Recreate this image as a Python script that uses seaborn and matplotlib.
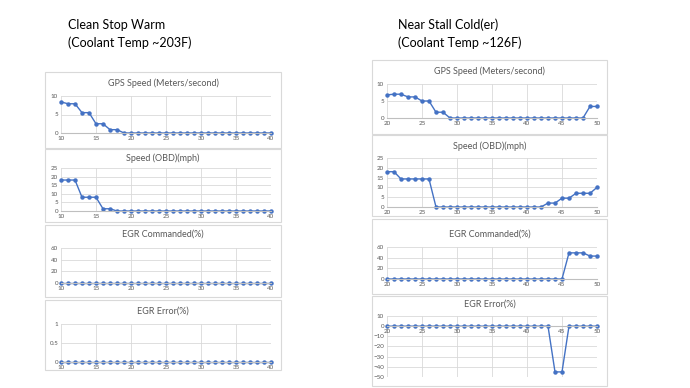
import matplotlib
matplotlib.use("Agg")
import matplotlib.pyplot as plt
import seaborn as sns
from matplotlib.patches import Rectangle

sns.set_style("white")
plt.rcParams['font.family'] = ['Lato', 'DejaVu Sans']

# data
left_x = [10, 11, 12, 13, 14, 15, 16, 17, 18, 19, 20, 21, 22, 23, 24, 25,
          26, 27, 28, 29, 30, 31, 32, 33, 34, 35, 36, 37, 38, 39, 40]
left_gps = [8.4, 7.9, 7.9, 5.5, 5.5, 2.5, 2.5, 0.9, 0.9, 0, 0, 0, 0, 0, 0, 0,
            0, 0, 0, 0, 0, 0, 0, 0, 0, 0, 0, 0, 0, 0, 0]
left_obd = [18, 18, 18, 8, 8, 8, 1.3, 1.3, 0, 0, 0, 0, 0, 0, 0, 0,
            0, 0, 0, 0, 0, 0, 0, 0, 0, 0, 0, 0, 0, 0, 0]
left_egr_cmd = [0, 0, 0, 0, 0, 0, 0, 0, 0, 0, 0, 0, 0, 0, 0, 0,
                0, 0, 0, 0, 0, 0, 0, 0, 0, 0, 0, 0, 0, 0, 0]
left_egr_err = [0, 0, 0, 0, 0, 0, 0, 0, 0, 0, 0, 0, 0, 0, 0, 0,
                0, 0, 0, 0, 0, 0, 0, 0, 0, 0, 0, 0, 0, 0, 0]

right_x = [20, 21, 22, 23, 24, 25, 26, 27, 28, 29, 30, 31, 32, 33, 34, 35,
           36, 37, 38, 39, 40, 41, 42, 43, 44, 45, 46, 47, 48, 49, 50]
right_gps = [6.8, 7.0, 7.0, 6.2, 6.2, 5.0, 5.0, 1.7, 1.7, 0, 0, 0, 0, 0, 0, 0,
             0, 0, 0, 0, 0, 0, 0, 0, 0, 0, 0, 0, 0, 3.4, 3.4]
right_obd = [18, 18, 14.3, 14.3, 14.3, 14.3, 14.3, 0, 0, 0, 0, 0, 0, 0, 0, 0,
             0, 0, 0, 0, 0, 0, 0, 2, 2, 4.5, 4.5, 7, 7, 7, 10]
right_egr_cmd = [0, 0, 0, 0, 0, 0, 0, 0, 0, 0, 0, 0, 0, 0, 0, 0,
                 0, 0, 0, 0, 0, 0, 0, 0, 0, 0, 49, 49, 49, 43, 43]
right_egr_err = [0, 0, 0, 0, 0, 0, 0, 0, 0, 0, 0, 0, 0, 0, 0, 0,
                 0, 0, 0, 0, 0, 0, 0, 0, -45, -45, 0, 0, 0, 0, 0]

titles = ['GPS Speed (Meters/second)', 'Speed (OBD)(mph)', 'EGR Commanded(%)', 'EGR Error(%)']
left_xticks = [10, 15, 20, 25, 30, 35, 40]
right_xticks = [20, 25, 30, 35, 40, 45, 50]

W, H = 690, 388
BLUE = '#4472C4'
GRID = '#d9d9d9'
TXT = '#595959'

fig = plt.figure(figsize=(W / 100, H / 100), dpi=100)


def fx(x):
    return x / W


def fy(y):
    return 1 - y / H


def panel(box, plot, title_y, title, x, y, xticks, yticks, ylabels=None, cross_zero=False):
    # box / plot given as (left, top, right, bottom) in pixels
    l, t, r, b = box
    fig.patches.append(Rectangle((fx(l), fy(b)), fx(r - l), (b - t) / H,
                                 transform=fig.transFigure, facecolor='white',
                                 edgecolor=GRID, lw=0.8, zorder=-1))
    fig.text(fx((l + r) / 2), fy(title_y), title, ha='center', va='center',
             fontsize=6.5, color=TXT)
    pl, pt, pr, pb = plot
    ax = fig.add_axes([fx(pl), fy(pb), fx(pr - pl), (pb - pt) / H])
    ax.patch.set_alpha(0)
    sns.lineplot(x=x, y=y, ax=ax, color=BLUE, marker='o', markersize=3.2,
                 markeredgewidth=0, linewidth=1.0)
    for ln in ax.lines:
        ln.set_clip_on(False)
    ax.set_xlim(x[0], x[-1])
    ax.set_ylim(yticks[0], yticks[-1])
    ax.set_xticks(xticks)
    ax.set_yticks(yticks)
    if ylabels is not None:
        ax.set_yticklabels(ylabels)
    ax.grid(True, color=GRID, lw=0.6)
    ax.set_axisbelow(True)
    for s in ['top', 'right', 'left']:
        ax.spines[s].set_visible(False)
    ax.spines['bottom'].set_color('#bfbfbf')
    ax.spines['bottom'].set_linewidth(0.8)
    if cross_zero:
        ax.spines['bottom'].set_position(('data', 0))
    ax.tick_params(length=0, labelsize=4.5, colors=TXT, pad=2)
    ax.set_xlabel('')
    ax.set_ylabel('')
    return ax


# left column
fig.text(fx(68), fy(25), 'Clean Stop Warm', fontsize=9, va='center', color='black')
fig.text(fx(68), fy(43), '(Coolant Temp ~203F)', fontsize=9, va='center', color='black')

panel((45, 72, 281, 148), (61, 96, 271, 133), 83, titles[0], left_x, left_gps,
      left_xticks, [0, 5, 10])
panel((45, 149, 281, 222), (61, 168, 271, 211), 158, titles[1], left_x, left_obd,
      left_xticks, [0, 5, 10, 15, 20, 25])
panel((45, 225, 281, 297), (61, 248, 271, 283), 234, titles[2], left_x, left_egr_cmd,
      left_xticks, [0, 20, 40, 60])
panel((45, 300, 281, 370), (61, 324, 271, 362), 311, titles[3], left_x, left_egr_err,
      left_xticks, [0, 0.5, 1], ['0', '0.5', '1'])

# right column
fig.text(fx(398), fy(25), 'Near Stall Cold(er)', fontsize=9, va='center', color='black')
fig.text(fx(398), fy(43), '(Coolant Temp ~126F)', fontsize=9, va='center', color='black')

panel((372, 60, 607, 134), (387, 84, 597, 118), 71, titles[0], right_x, right_gps,
      right_xticks, [0, 5, 10])
panel((372, 135, 607, 216), (387, 158, 597, 207), 146, titles[1], right_x, right_obd,
      right_xticks, [0, 5, 10, 15, 20, 25])
panel((372, 219, 607, 294), (387, 247, 597, 279), 234, titles[2], right_x, right_egr_cmd,
      right_xticks, [0, 20, 40, 60])
panel((372, 296, 607, 386), (387, 316, 597, 377), 304, titles[3], right_x, right_egr_err,
      right_xticks, [-50, -40, -30, -20, -10, 0, 10], cross_zero=True)

fig.savefig('out.png', dpi=100)
